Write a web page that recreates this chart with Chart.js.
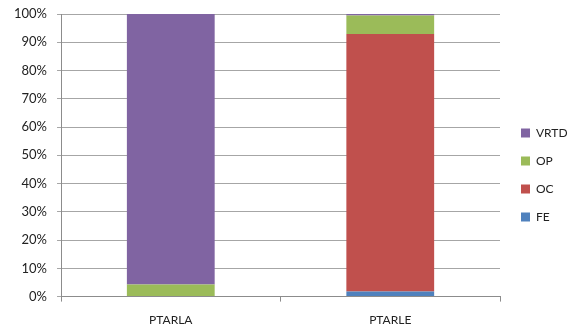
<!DOCTYPE html>
<html>
<head>
<meta charset="utf-8">
<script src="https://cdn.jsdelivr.net/npm/chart.js@4"></script>
<style>
  body { margin: 0; background: #fff; }
  #chart { display: block; }
</style>
</head>
<body>
<canvas id="chart" width="568" height="328"></canvas>
<script>
const categories = ["PTARLA", "PTARLE"];
const fe_values = [0, 1.8];
const oc_values = [0, 91.1];
const op_values = [4.3, 6.6];
const vrtd_values = [95.7, 0.5];

const ctx = document.getElementById("chart");

let datasets = {
    labels: categories,
    datasets: [
        { label: "FE", data: fe_values, backgroundColor: "#4f81bd" },
        { label: "OC", data: oc_values, backgroundColor: "#c0504d" },
        { label: "OP", data: op_values, backgroundColor: "#9bbb59" },
        { label: "VRTD", data: vrtd_values, backgroundColor: "#8064a2" },
    ],
};

// legend sits in a fixed 68px strip on the right
const legend_fix = {
    id: "legend_fix",
    afterInit(chart) {
        const legend = chart.legend;
        const orig_fit = legend.fit;
        legend.fit = function () {
            orig_fit.call(this);
            this.width = 68;
        };
    },
    afterLayout(chart) {
        const legend = chart.legend;
        legend.left += 5;
        legend.right += 5;
        legend.top += 6;
        legend.bottom += 6;
    },
};

let options = {
    responsive: false,
    animation: false,
    categoryPercentage: 1.0,
    barPercentage: 0.4,
    layout: { padding: { top: 0, left: 4, right: 0, bottom: -10 } },
    scales: {
        x: {
            stacked: true,
            grid: {
                offset: true,
                drawOnChartArea: false,
                color: "#8c8c8c",
                tickLength: 5,
            },
            border: { color: "#8c8c8c" },
            ticks: { color: "#222", font: { family: "Lato", size: 12 }, padding: 11 },
        },
        y: {
            stacked: true,
            min: 0,
            max: 100,
            grid: { color: "#a6a6a6", tickLength: 4 },
            border: { color: "#8c8c8c" },
            ticks: {
                stepSize: 10,
                color: "#222",
                font: { family: "Lato", size: 13 },
                padding: 10,
                callback: v => v + "%",
            },
            afterFit(scale) {
                scale.paddingTop = 14;
            },
        },
    },
    plugins: {
        legend: {
            position: "right",
            reverse: true,
            labels: {
                boxWidth: 9,
                boxHeight: 9,
                padding: 16,
                color: "#222",
                font: { family: "Lato", size: 12 },
            },
        },
        tooltip: { enabled: false },
    },
};

let chart = new Chart(ctx, {
    type: "bar",
    data: datasets,
    options: options,
    plugins: [legend_fix],
});
</script>
</body>
</html>
